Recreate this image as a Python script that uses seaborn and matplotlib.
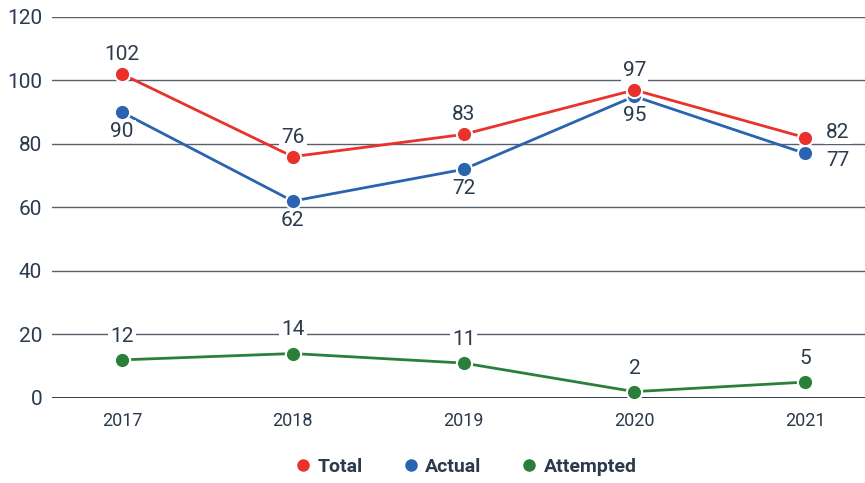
import matplotlib
matplotlib.use("Agg")
import matplotlib.pyplot as plt
import seaborn as sns
import pandas as pd
from matplotlib.lines import Line2D

years = [2017, 2018, 2019, 2020, 2021]
total = [102, 76, 83, 97, 82]
actual = [90, 62, 72, 95, 77]
attempted = [12, 14, 11, 2, 5]
series_names = ["Total", "Actual", "Attempted"]
colors = ["#e8322b", "#2a63b0", "#2a7f3a"]

df = pd.DataFrame({
    "year": years * 3,
    "value": total + actual + attempted,
    "series": [s for s in series_names for _ in years],
})

sns.set_style("white")
FAM = ['Roboto', 'DejaVu Sans']
plt.rcParams['font.family'] = FAM
text_color = "#2b3a4c"

fig = plt.figure(figsize=(8.65, 4.83), dpi=100)
ax = fig.add_axes([0.060, 0.176, 0.940, 0.789])

for y in [20, 40, 60, 80, 100, 120]:
    ax.axhline(y, color="#55606c", lw=1.0, zorder=0)
ax.axhline(0, color="#1f2d3d", lw=2.0, zorder=1)

# draw order: Attempted, Actual, then Total on top
draw_order = series_names[::-1]
sns.lineplot(data=df, x="year", y="value", hue="series", palette=colors[::-1],
             hue_order=draw_order, marker="o", markersize=11, markeredgecolor="white",
             markeredgewidth=1.5, linewidth=2, legend=False, ax=ax, zorder=3)

fs = 15
def lab(x, y, txt, dx, dy, ha="center"):
    ax.annotate(txt, (x, y), xytext=(dx, dy), textcoords="offset points",
                ha=ha, va="center", fontsize=fs, color=text_color, zorder=4,
                bbox=dict(boxstyle="square,pad=0.1", fc="white", ec="none"))

for i, yr in enumerate(years):
    if yr == 2021:
        lab(yr, total[i], str(total[i]), 15, 4, "left")
        lab(yr, actual[i], str(actual[i]), 15, -5, "left")
    else:
        lab(yr, total[i], str(total[i]), 0, 14)
        lab(yr, actual[i], str(actual[i]), 0, -14)
    lab(yr, attempted[i], str(attempted[i]), 0, 17)

ax.set_xlim(2016.59, 2021.35)
ax.set_ylim(0, 120)
ax.set_xticks(years)
ax.set_xticklabels([str(y) for y in years])
ax.set_yticks([0, 20, 40, 60, 80, 100, 120])
ax.tick_params(axis="x", labelsize=13, colors=text_color, length=0, pad=10)
ax.tick_params(axis="y", labelsize=15, colors=text_color, length=0, pad=7)
for s in ax.spines.values():
    s.set_visible(False)
ax.set_xlabel("")
ax.set_ylabel("")

handles = [Line2D([0], [0], marker="o", color="none", markerfacecolor=c, markeredgecolor=c,
                  markersize=8) for c in colors]
fig.legend(handles, series_names, loc="center", bbox_to_anchor=(0.535, 0.033), ncol=3,
           frameon=False, handletextpad=0.0, columnspacing=1.7, handlelength=1.5,
           prop={"size": 14, "weight": "bold", "family": FAM},
           labelcolor=text_color)

fig.savefig("out.png", dpi=100)
